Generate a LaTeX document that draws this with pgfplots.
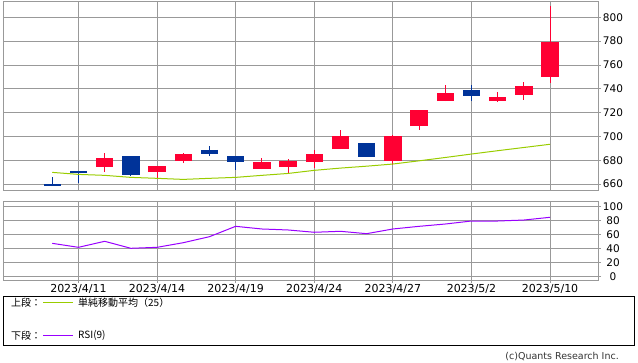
\documentclass[border=0pt]{standalone}
\usepackage{pgfplots}
\pgfplotsset{compat=1.18}
\usepackage{pgfplotstable}
\usepackage{fontspec}
\setmainfont{DejaVu Sans}
\newfontfamily\jp{Noto Sans CJK JP}
\definecolor{upred}{HTML}{FF0033}
\definecolor{dnblue}{HTML}{003399}
\definecolor{magreen}{HTML}{99CC00}
\definecolor{rsipurple}{HTML}{9900FF}
\definecolor{gridgray}{HTML}{999999}

% up (red) candles: wick (low -> high) and body (open -> close), one segment per candle
\pgfplotstableread{
x y
2 670.0
2 686.0
2 nan
4 665.0
4 675.0
4 nan
5 677.6
5 686.3
5 nan
8 672.6
8 682.0
8 nan
9 669.2
9 681.0
9 nan
10 673.4
10 688.6
10 nan
11 689.4
11 705.4
11 nan
13 676.0
13 701.0
13 nan
14 705.4
14 722.2
14 nan
15 729.7
15 743.2
15 nan
17 728.9
17 737.3
17 nan
18 730.6
18 745.7
18 nan
19 745.0
19 809.6
}\upwick
\pgfplotstableread{
x y
2 674.5
2 682.0
2 nan
4 670.0
4 675.0
4 nan
5 679.6
5 685.2
5 nan
8 672.6
8 678.5
8 nan
9 674.3
9 679.3
9 nan
10 678.5
10 685.2
10 nan
11 689.4
11 700.3
11 nan
13 679.3
13 700.3
13 nan
14 708.7
14 722.2
14 nan
15 729.7
15 736.5
15 nan
17 729.7
17 733.1
17 nan
18 734.8
18 742.4
18 nan
19 750.0
19 779.3
}\upbody

% down (blue) candles
\pgfplotstableread{
x y
0 658.5
0 666.0
0 nan
1 660.6
1 671.0
1 nan
3 666.7
3 683.5
3 nan
6 683.5
6 692.2
6 nan
7 671.8
7 683.5
7 nan
16 729.7
16 743.2
}\dnwick
\pgfplotstableread{
x y
0 660.0
0 658.5
0 nan
1 671.0
1 669.0
1 nan
3 683.5
3 667.8
3 nan
6 688.6
6 685.2
6 nan
7 683.5
7 678.5
7 nan
12 694.5
12 682.7
12 nan
16 739.0
16 734.0
}\dnbody

% 25-day simple moving average
\pgfplotstableread{
x v
0 669.8
1 668.1
2 667.3
3 665.6
4 664.8
5 663.9
6 664.8
7 665.6
8 667.3
9 668.9
10 671.5
11 673.4
12 675.0
13 676.8
14 679.5
15 682.3
16 685.2
17 688.0
18 690.7
19 693.4
}\matable

% RSI(9)
\pgfplotstableread{
x v
0 47.1
1 41.4
2 50.0
3 40.0
4 41.4
5 48.0
6 56.6
7 71.4
8 67.6
9 66.2
10 62.9
11 64.3
12 60.9
13 67.6
14 71.4
15 74.7
16 79.0
17 79.0
18 80.4
19 84.3
}\rsitable

\begin{document}
\begin{tikzpicture}[x=1pt,y=1pt]
\useasboundingbox (0,0) rectangle (638,362);
\pgfplotsset{
  panel/.style={
    scale only axis, width=595pt,
    xmin=-1.88, xmax=20.83,
    xtick={1,4,7,10,13,16,19},
    grid=major,
    major grid style={gridgray, line width=0.9pt},
    axis line style={gridgray, line width=0.9pt},
    tick style={gridgray, line width=0.9pt},
    tick align=outside, major tick length=3pt,
    ytick pos=right, yticklabel pos=right, xtick pos=bottom,
    ticklabel style={font=\fontsize{10.5}{12}\selectfont, text=black},
    yticklabel style={anchor=center, xshift=12pt},
    /pgf/number format/assume math mode=true,
    unbounded coords=jump,
  },
}
% upper panel: candles + moving average
\begin{axis}[panel, at={(3pt,172pt)}, anchor=south west, height=189pt,
  ymin=655, ymax=813.7, ytick={660,680,...,800},
  xticklabels={}, x tick style={draw=none}]
  \addplot[dnblue, line width=1.1pt, mark=none] table[x=x, y=y] \dnwick;
  \addplot[upred, line width=1.1pt, mark=none] table[x=x, y=y] \upwick;
  \addplot[dnblue, line width=17.5pt, mark=none] table[x=x, y=y] \dnbody;
  \addplot[upred, line width=17.5pt, mark=none] table[x=x, y=y] \upbody;
  \addplot[magreen, line width=1pt, mark=none] table[x=x, y=v] \matable;
\end{axis}
% lower panel: RSI
\begin{axis}[panel, at={(3pt,82pt)}, anchor=south west, height=79pt,
  ymin=-5.3, ymax=107.6, ytick={0,20,...,100},
  xticklabels={2023/4/11,2023/4/14,2023/4/19,2023/4/24,2023/4/27,2023/5/2,2023/5/10},
  xticklabel style={font=\fontsize{11}{12}\selectfont, inner sep=1pt}]
  \addplot[rsipurple, line width=1pt, mark=none] table[x=x, y=v] \rsitable;
\end{axis}
% legend box
\draw[black, line width=1pt] (3.5,17) rectangle (634.5,65.5);
\node[anchor=west, inner sep=0pt, font=\jp\fontsize{10}{12}\selectfont] at (11,59) {上段：};
\draw[magreen, line width=1pt] (43,59) -- (73,59);
\node[anchor=west, inner sep=0pt, font=\jp\fontsize{10}{12}\selectfont] at (78,59) {単純移動平均（25）};
\node[anchor=west, inner sep=0pt, font=\jp\fontsize{10}{12}\selectfont] at (11,26.3) {下段：};
\draw[rsipurple, line width=1pt] (43,26.3) -- (73,26.3);
\node[anchor=west, inner sep=0pt, font=\jp\fontsize{10}{12}\selectfont] at (78,26.3) {RSI(9)};
% copyright
\node[anchor=east, inner sep=0pt, text=black!80, font=\fontsize{9.5}{11}\selectfont] at (619,5.5) {(c)Quants Research Inc.};
\end{tikzpicture}
\end{document}
